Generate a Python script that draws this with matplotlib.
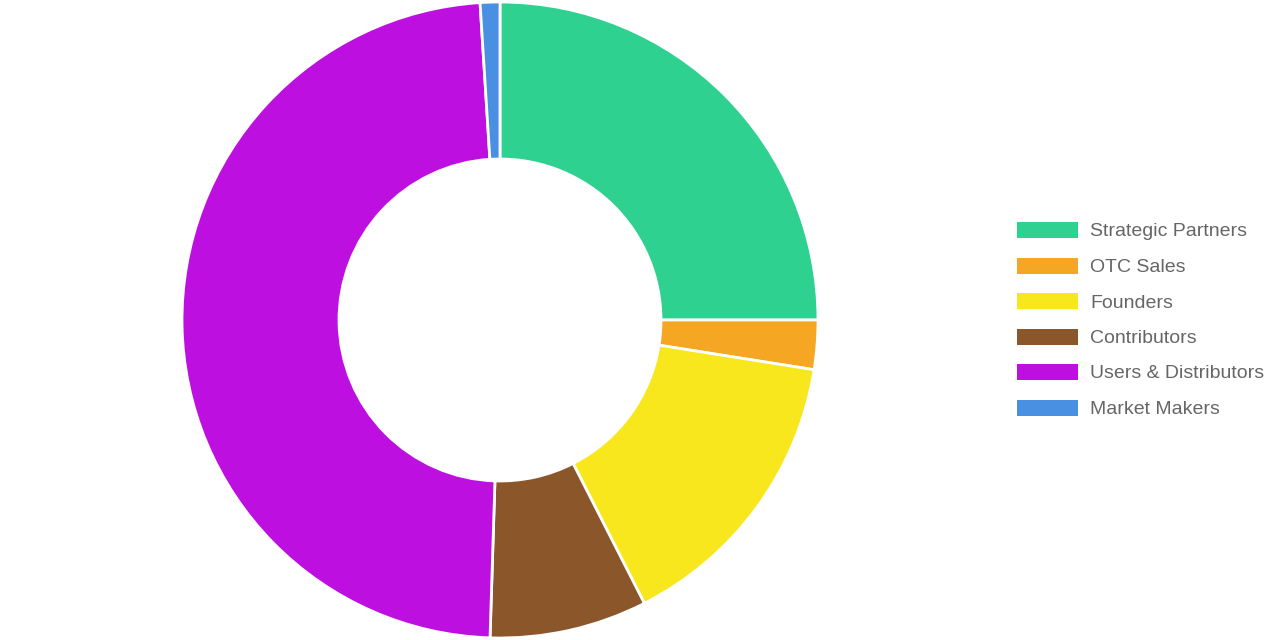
import matplotlib
matplotlib.use('Agg')
import matplotlib.pyplot as plt
from matplotlib.patches import Rectangle

# dados do gráfico (percentuais)
categorias = ['Strategic Partners', 'OTC Sales', 'Founders', 'Contributors',
              'Users & Distributors', 'Market Makers']
valores = [25, 2.5, 15, 8, 48.5, 1]
cores = ['#2FD191', '#F5A623', '#F8E71C', '#8B572A', '#BD10E0', '#4A90E2']

fig = plt.figure(figsize=(12.8, 6.4), dpi=100)
ax = fig.add_axes([0, 0, 1, 1])
ax.set_xlim(0, 1280)
ax.set_ylim(0, 640)
ax.set_aspect('equal')
ax.axis('off')

# rosca
ax.pie(valores, colors=cores, startangle=90, counterclock=False,
       center=(500, 320), radius=318,
       wedgeprops=dict(width=157, edgecolor='white', linewidth=2))
ax.set_xlim(0, 1280)
ax.set_ylim(0, 640)

# legenda desenhada à mão
y0 = 640 - 230
passo = 35.5
for i, (nome, cor) in enumerate(zip(categorias, cores)):
    y = y0 - i * passo
    ax.add_patch(Rectangle((1017, y - 8), 61, 16, facecolor=cor, edgecolor='none'))
    ax.text(1090, y - 2, nome, va='center', ha='left', fontsize=14,
            color='#666666', family='Liberation Sans')

fig.savefig('out.png', dpi=100)
